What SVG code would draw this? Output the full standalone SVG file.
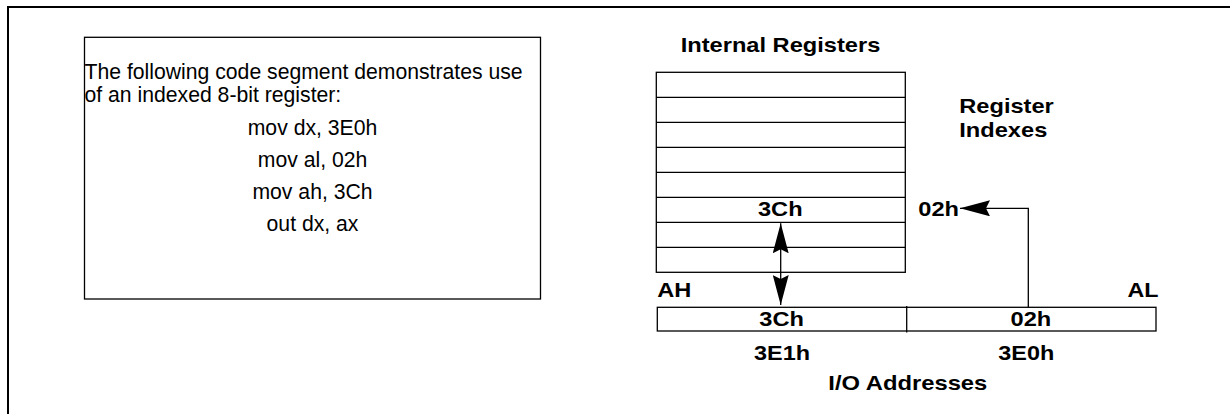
<svg xmlns="http://www.w3.org/2000/svg" width="1230" height="414" viewBox="0 0 1230 414">
<style>
  .ln { fill: none; stroke: #000; stroke-width: 1.3; }
  .reg { font-family: "Liberation Sans", Arial, sans-serif; font-size: 21.2px; fill: #000; }
  .b { font-family: "Liberation Sans", Arial, sans-serif; font-size: 21px; font-weight: bold; fill: #000; }
  .mid { text-anchor: middle; }
</style>
<defs>
  <marker id="ah" viewBox="0 0 30 16" refX="30" refY="8" markerWidth="30" markerHeight="16" markerUnits="userSpaceOnUse" orient="auto-start-reverse">
    <path d="M0,0 L30,8 L0,16 L4,8 Z" fill="#000"/>
  </marker>
</defs>
<rect width="1230" height="414" fill="#fff"/>
<path d="M8,414 V7 H1230" fill="none" stroke="#000" stroke-width="2"/>

<g id="code-box">
  <rect class="ln" x="84.5" y="37.3" width="456" height="261.7"/>
  <text class="reg" x="84.5" y="79">The following code segment demonstrates use</text>
  <text class="reg" x="84.5" y="102">of an indexed 8-bit register:</text>
  <text class="reg mid" x="312.5" y="135">mov dx, 3E0h</text>
  <text class="reg mid" x="312.5" y="167">mov al, 02h</text>
  <text class="reg mid" x="312.5" y="199">mov ah, 3Ch</text>
  <text class="reg mid" x="312.5" y="231">out dx, ax</text>
</g>

<g id="internal-registers">
  <text class="b" x="680.7" y="52.3" textLength="199.6" lengthAdjust="spacingAndGlyphs">Internal Registers</text>
  <rect class="ln" x="656.3" y="72.3" width="249" height="200"/>
  <path class="ln" d="M656.3,97.3 H905.3 M656.3,122.3 H905.3 M656.3,147.3 H905.3 M656.3,172.3 H905.3 M656.3,197.3 H905.3 M656.3,222.3 H905.3 M656.3,247.3 H905.3"/>
  <text class="b" x="758" y="216" textLength="44.6" lengthAdjust="spacingAndGlyphs">3Ch</text>
</g>

<g id="register-indexes">
  <text class="b" x="959.3" y="113.3" textLength="94.5" lengthAdjust="spacingAndGlyphs">Register</text>
  <text class="b" x="959.3" y="137.3" textLength="88" lengthAdjust="spacingAndGlyphs">Indexes</text>
  <text class="b" x="918.3" y="215.7" textLength="40.7" lengthAdjust="spacingAndGlyphs">02h</text>
</g>

<g id="io-addresses">
  <text class="b" x="657.3" y="296.7" textLength="34.1" lengthAdjust="spacingAndGlyphs">AH</text>
  <text class="b" x="1127.5" y="296.7" textLength="31" lengthAdjust="spacingAndGlyphs">AL</text>
  <rect class="ln" x="657.3" y="307.3" width="498.7" height="23.7"/>
  <path class="ln" d="M906.7,306 V332.5"/>
  <text class="b" x="759.3" y="326" textLength="44.6" lengthAdjust="spacingAndGlyphs">3Ch</text>
  <text class="b" x="1010.5" y="326" textLength="40.7" lengthAdjust="spacingAndGlyphs">02h</text>
  <text class="b" x="754" y="360" textLength="56" lengthAdjust="spacingAndGlyphs">3E1h</text>
  <text class="b" x="998.3" y="360" textLength="56" lengthAdjust="spacingAndGlyphs">3E0h</text>
  <text class="b" x="828.3" y="390" textLength="159" lengthAdjust="spacingAndGlyphs">I/O Addresses</text>
</g>

<g id="connectors">
  <path class="ln" d="M780.7,223.3 V305" marker-start="url(#ah)" marker-end="url(#ah)"/>
  <path class="ln" d="M1028.3,307.3 V208.3 H960" marker-end="url(#ah)"/>
</g>
</svg>
